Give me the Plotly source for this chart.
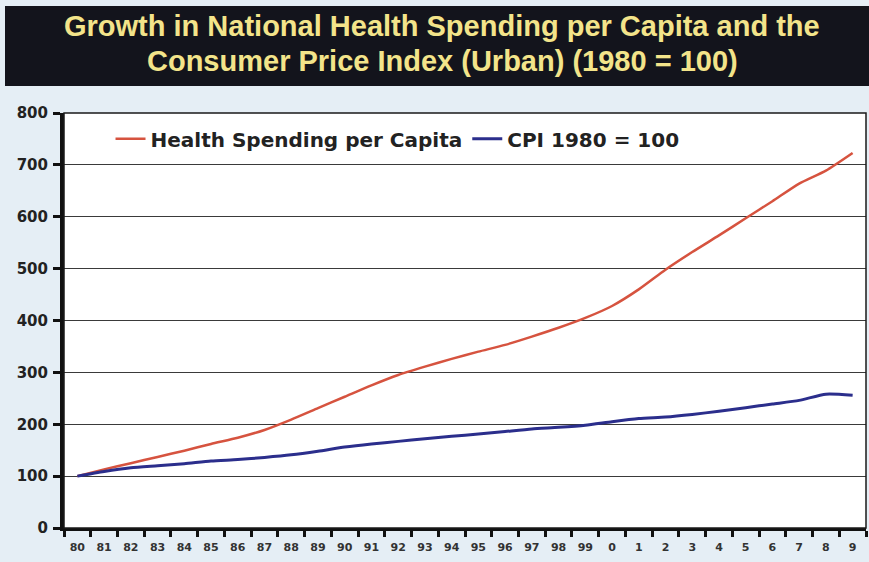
import plotly.graph_objects as go

# Year labels (two-digit, then single digit after 2000)
years = ["80", "81", "82", "83", "84", "85", "86", "87", "88", "89",
         "90", "91", "92", "93", "94", "95", "96", "97", "98", "99",
         "0", "1", "2", "3", "4", "5", "6", "7", "8", "9"]

# Index values, 1980 = 100
health_spending = [100, 113, 125, 137, 149, 162, 174, 189, 209, 231,
                   253, 275, 295, 311, 326, 340, 353, 369, 386, 405,
                   428, 460, 498, 532, 564, 597, 630, 664, 689, 723]
cpi = [100, 109, 116, 120, 124, 129, 132, 136, 141, 148,
       156, 162, 167, 172, 177, 181, 186, 191, 194, 198,
       205, 211, 214, 219, 225, 232, 239, 246, 258, 256]

y_ticks = [0, 100, 200, 300, 400, 500, 600, 700, 800]

title_lines = ["Growth in National Health Spending per Capita and the",
               "Consumer Price Index (Urban) (1980 = 100)"]

RED = "#d6533f"
BLUE = "#2b2e8c"
TITLE_FONT = "Liberation Sans"
LABEL_FONT = "DejaVu Sans"

fig = go.Figure()
fig.add_trace(go.Scatter(x=years, y=health_spending, mode="lines",
                         name="Health Spending per Capita",
                         line=dict(color=RED, width=2.5, shape="spline", smoothing=0.6)))
fig.add_trace(go.Scatter(x=years, y=cpi, mode="lines",
                         name="CPI 1980 = 100",
                         line=dict(color=BLUE, width=3, shape="spline", smoothing=0.6)))

W, H = 869, 562
ml, mr, mt, mb = 64, 3, 113, 34
pw, ph = W - ml - mr, H - mt - mb


def px_x(x):
    return (x - ml) / pw


def px_y(y):
    return (H - mb - y) / ph


# Dark title banner
fig.add_shape(type="rect", xref="paper", yref="paper",
              x0=px_x(5), x1=px_x(870), y0=px_y(86), y1=px_y(6),
              fillcolor="#13141c", line=dict(width=0), layer="below")
# Plot frame (top and right edges)
fig.add_shape(type="rect", xref="paper", yref="paper",
              x0=0, x1=1, y0=0, y1=1,
              line=dict(color="#1a1a1a", width=1.5), fillcolor="rgba(0,0,0,0)")

for line_text, y_mid in zip(title_lines, [26, 61]):
    fig.add_annotation(xref="paper", yref="paper", x=px_x(442), y=px_y(y_mid),
                       text=line_text, showarrow=False,
                       xanchor="center", yanchor="middle",
                       font=dict(family=TITLE_FONT, size=29, color="#f3e48a",
                                 weight="bold"))

fig.update_layout(
    width=W, height=H,
    margin=dict(l=ml, r=mr, t=mt, b=mb),
    paper_bgcolor="#e5eef5",
    plot_bgcolor="#ffffff",
    showlegend=True,
    legend=dict(orientation="h", x=0.058, y=0.985, xanchor="left", yanchor="top",
                bgcolor="rgba(255,255,255,0)",
                font=dict(family=LABEL_FONT, size=20, color="#222222", weight="bold"),
                tracegroupgap=0),
    xaxis=dict(type="category", categoryorder="array", categoryarray=years,
               range=[-0.5, len(years) - 0.5],
               tickson="boundaries", ticks="outside", ticklen=6, tickwidth=2.5,
               tickcolor="#111111",
               showline=True, linecolor="#111111", linewidth=3,
               showgrid=False, zeroline=False, ticklabelstandoff=7,
               tickfont=dict(family=LABEL_FONT, size=11, color="#333333", weight="bold")),
    yaxis=dict(range=[0, 800], tickvals=y_ticks,
               ticks="outside", ticklen=7, tickwidth=3, tickcolor="#111111",
               showline=True, linecolor="#111111", linewidth=4,
               showgrid=True, gridcolor="#3a3a3a", gridwidth=1,
               zeroline=False, ticklabelstandoff=2,
               tickfont=dict(family=LABEL_FONT, size=15, color="#222222", weight="bold")),
)

fig.write_html("out.html")
